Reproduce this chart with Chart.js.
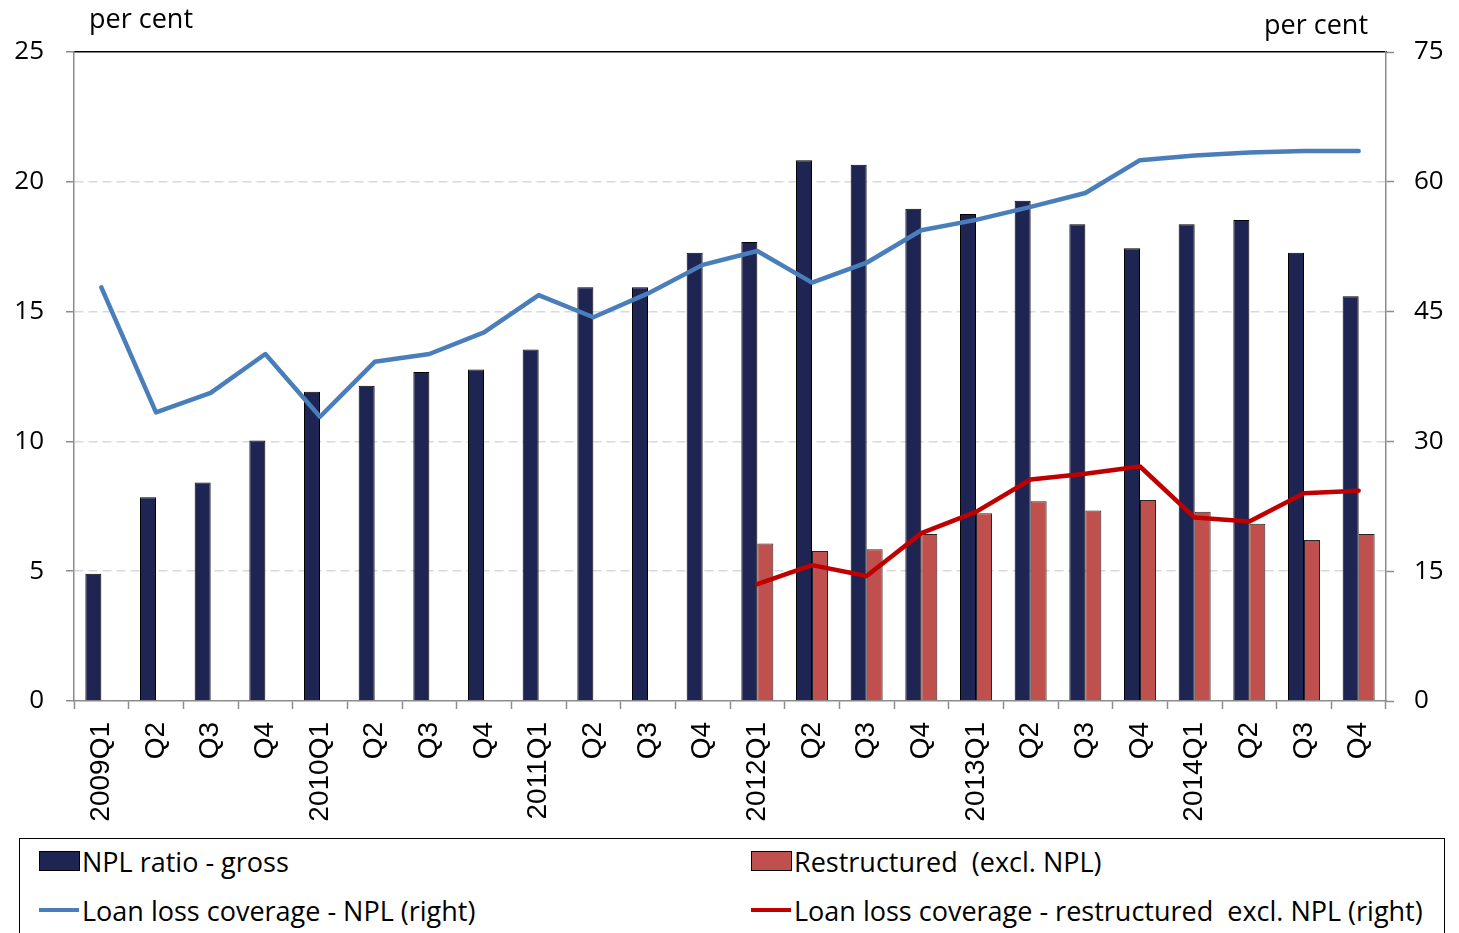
<!DOCTYPE html>
<html>
<head>
<meta charset="utf-8">
<script src="https://cdn.jsdelivr.net/npm/chart.js@4.4.1/dist/chart.umd.min.js"></script>
<style>
  html, body { margin: 0; padding: 0; background: #fff; overflow: hidden; }
  #wrap { position: relative; width: 1459px; height: 933px; }
  #chart { position: absolute; left: 0; top: 0; }
  .unit { position: absolute; font-family: "Open Sans", sans-serif; font-size: 27px; line-height: 27px; color: #000; white-space: pre; }
  #legend { position: absolute; left: 19px; top: 838px; width: 1426px; height: 130px; border: 1.5px solid #000; box-sizing: border-box; background: #fff; }
  .item { position: absolute; height: 30px; display: flex; align-items: center; font-family: "Open Sans", sans-serif; font-size: 27px; color: #000; white-space: pre; }
  .sw-bar { width: 39px; height: 18px; border: 1.5px solid #000; margin-right: 2px; }
  .sw-line { width: 40px; height: 4px; margin-right: 3px; }
</style>
</head>
<body>
<div id="wrap">
  <canvas id="chart" width="1459" height="933"></canvas>
  <div class="unit" style="left:89px; top:4px;">per cent</div>
  <div class="unit" style="left:1264px; top:10px;">per cent</div>
  <div id="legend"></div>
</div>
<script>
// Quarterly categories
const quarters = [
  '2009Q1', 'Q2', 'Q3', 'Q4',
  '2010Q1', 'Q2', 'Q3', 'Q4',
  '2011Q1', 'Q2', 'Q3', 'Q4',
  '2012Q1', 'Q2', 'Q3', 'Q4',
  '2013Q1', 'Q2', 'Q3', 'Q4',
  '2014Q1', 'Q2', 'Q3', 'Q4'
];

// Left axis (per cent)
const nplRatio = [
  4.9, 7.85, 8.42, 10.03,
  11.91, 12.14, 12.67, 12.77,
  13.54, 15.94, 15.94, 17.27,
  17.68, 20.83, 20.66, 18.96,
  18.76, 19.27, 18.36, 17.44,
  18.36, 18.53, 17.27, 15.59
];
const restructured = [
  null, null, null, null,
  null, null, null, null,
  null, null, null, null,
  6.07, 5.78, 5.85, 6.43,
  7.23, 7.69, 7.34, 7.74,
  7.29, 6.83, 6.2, 6.43
];

// Right axis (per cent)
const coverageNpl = [
  47.8, 33.35, 35.6, 40.1,
  32.85, 39.2, 40.1, 42.6,
  46.9, 44.35, 47.1, 50.4,
  52.0, 48.35, 50.65, 54.4,
  55.6, 57.1, 58.7, 62.5,
  63.05, 63.4, 63.55, 63.55
];
const coverageRestructured = [
  null, null, null, null,
  null, null, null, null,
  null, null, null, null,
  13.5, 15.7, 14.45, 19.4,
  21.85, 25.6, 26.25, 27.1,
  21.2, 20.75, 24.0, 24.3
];

const seriesNames = [
  'NPL ratio - gross',
  'Restructured  (excl. NPL)',
  'Loan loss coverage - NPL (right)',
  'Loan loss coverage - restructured  excl. NPL (right)'
];

const axisGrey = '#8c8c8c';
const gridGrey = '#d9d9d9';

const barCommon = { type: 'bar', yAxisID: 'y', order: 2, categoryPercentage: 0.585, barPercentage: 1.0, borderWidth: 1 };
const lineCommon = { type: 'line', yAxisID: 'y1', order: 1, borderWidth: 4.5, pointRadius: 0, pointHoverRadius: 0, tension: 0, fill: false, borderJoinStyle: 'round', borderCapStyle: 'round' };

const chart = new Chart(document.getElementById('chart'), {
  type: 'bar',
  data: {
    labels: quarters,
    datasets: [
      Object.assign({}, barCommon, { label: seriesNames[0], data: nplRatio, backgroundColor: '#1f2553', borderColor: '#000000' }),
      Object.assign({}, barCommon, { label: seriesNames[1], data: restructured, backgroundColor: '#c0504d', borderColor: '#262626' }),
      Object.assign({}, lineCommon, { label: seriesNames[2], data: coverageNpl, borderColor: '#4a7ebb' }),
      Object.assign({}, lineCommon, { label: seriesNames[3], data: coverageRestructured, borderColor: '#c00000' })
    ]
  },
  options: {
    responsive: false,
    animation: false,
    devicePixelRatio: 1,
    layout: { padding: { left: 0, right: 0, top: 52, bottom: 94 } },
    plugins: { legend: { display: false }, tooltip: { enabled: false } },
    scales: {
      x: {
        position: 'bottom',
        offset: true,
        grid: { display: true, offset: true, drawOnChartArea: false, drawTicks: true, tickLength: 8, tickColor: axisGrey, tickWidth: 1.5 },
        border: { display: true, color: axisGrey, width: 1.5 },
        ticks: { autoSkip: false, minRotation: 90, maxRotation: 90, padding: 13, color: '#000', font: { family: '"Liberation Sans", Arial, sans-serif', size: 28 } },
        afterFit(scale) { scale.height = 138; }
      },
      xTop: {
        type: 'category',
        position: 'top',
        offset: true,
        grid: { display: true, drawOnChartArea: false, drawTicks: false },
        border: { display: true, color: '#000000', width: 1.5 },
        ticks: { display: false },
        afterFit(scale) { scale.height = 0; }
      },
      y: {
        position: 'left',
        min: 0,
        max: 25,
        ticks: { stepSize: 5, padding: 22, color: '#000', font: { family: '"Open Sans", sans-serif', size: 26 } },
        grid: {
          color: (c) => (c.tick && (c.tick.value === 0 || c.tick.value === 25)) ? 'rgba(0,0,0,0)' : gridGrey,
          lineWidth: 1.5,
          drawTicks: true,
          tickLength: 8,
          tickColor: axisGrey,
          tickWidth: 1.5
        },
        border: { display: true, color: axisGrey, width: 1.5, dash: [9, 5] },
        afterFit(scale) { scale.width = 74; }
      },
      y1: {
        position: 'right',
        min: 0,
        max: 75,
        ticks: { stepSize: 15, padding: 20, color: '#000', font: { family: '"Open Sans", sans-serif', size: 26 } },
        grid: { drawOnChartArea: false, drawTicks: true, tickLength: 8, tickColor: axisGrey, tickWidth: 1.5 },
        border: { display: true, color: axisGrey, width: 1.5 },
        afterFit(scale) { scale.width = 73; }
      }
    }
  }
});

// Two-column legend built from the chart's datasets
const legendEl = document.getElementById('legend');
const legendSlots = [
  { left: 19, top: 7 },
  { left: 731, top: 7 },
  { left: 19, top: 56 },
  { left: 731, top: 56 }
];
chart.data.datasets.forEach((ds, i) => {
  const item = document.createElement('div');
  item.className = 'item';
  item.style.left = legendSlots[i].left + 'px';
  item.style.top = legendSlots[i].top + 'px';
  const sw = document.createElement('span');
  if (ds.type === 'bar') {
    sw.className = 'sw-bar';
    sw.style.background = ds.backgroundColor;
  } else {
    sw.className = 'sw-line';
    sw.style.background = ds.borderColor;
  }
  const txt = document.createElement('span');
  txt.textContent = ds.label;
  item.appendChild(sw);
  item.appendChild(txt);
  legendEl.appendChild(item);
});
</script>
</body>
</html>
